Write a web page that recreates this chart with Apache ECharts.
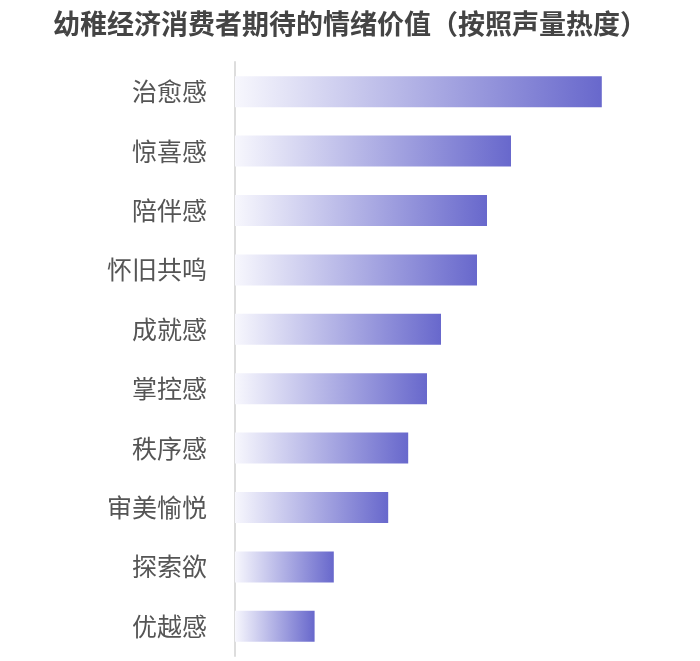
<!DOCTYPE html>
<html>
<head>
<meta charset="utf-8">
<script src="https://cdn.jsdelivr.net/npm/echarts@6/dist/echarts.min.js"></script>
<style>
html,body{margin:0;padding:0;background:#fff;}
#main{width:700px;height:661px;}
</style>
</head>
<body>
<div id="main"></div>
<script>
const titleText = '幼稚经济消费者期待的情绪价值（按照声量热度）';
const categories = ['治愈感','惊喜感','陪伴感','怀旧共鸣','成就感','掌控感','秩序感','审美愉悦','探索欲','优越感'];
const values = [91.7, 69, 63, 60.5, 51.5, 48, 43.3, 38.3, 24.7, 19.9];

const chart = echarts.init(document.getElementById('main'));
chart.setOption({
  backgroundColor: '#fff',
  animation: false,
  title: {
    text: titleText,
    left: 'center',
    top: 5,
    textStyle: {
      fontFamily: 'Noto Sans CJK SC',
      fontSize: 27,
      fontWeight: 'bold',
      color: '#444'
    }
  },
  grid: { left: 235, top: 62, width: 400, height: 594 },
  xAxis: {
    type: 'value', min: 0, max: 100,
    show: false
  },
  yAxis: {
    type: 'category',
    inverse: true,
    data: categories,
    offset: 3,
    axisLine: { show: true, lineStyle: { color: '#ddd', width: 2 } },
    axisTick: { show: false },
    axisLabel: {
      margin: 25,
      fontFamily: 'Noto Sans CJK SC',
      fontSize: 25,
      color: '#555'
    }
  },
  series: [{
    type: 'bar',
    data: values,
    barWidth: 31,
    itemStyle: {
      color: new echarts.graphic.LinearGradient(0, 0, 1, 0, [
        { offset: 0, color: '#f7f7fd' },
        { offset: 1, color: '#6868cc' }
      ])
    }
  }]
});
</script>
</body>
</html>
